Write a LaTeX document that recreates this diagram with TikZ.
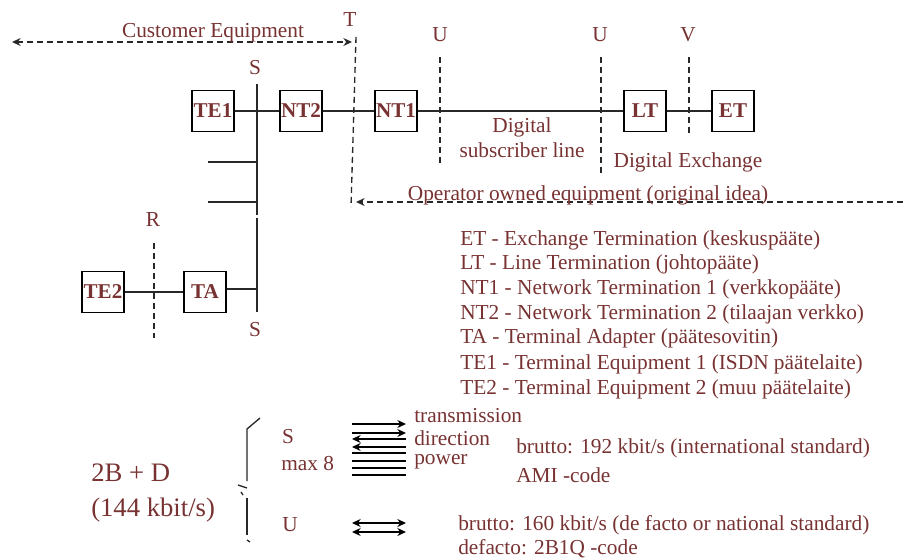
\documentclass[tikz,border=0pt]{standalone}
\usepackage{fontspec}
\setmainfont{Liberation Serif}
\usetikzlibrary{arrows.meta}
\definecolor{txt}{RGB}{120,50,50}
\definecolor{ln}{RGB}{40,40,40}
\begin{document}
\begin{tikzpicture}[x=0.75pt,y=-0.75pt,
  box/.style={draw=black,line width=1.1pt,minimum width=31.5pt,minimum height=30.75pt,inner sep=0pt,
    font=\fontsize{15.8}{17}\selectfont\bfseries,text=txt},
  lbl/.style={text=txt,font=\fontsize{16}{18.75}\selectfont,inner sep=0pt},
  lbll/.style={lbl,anchor=west},
  big/.style={text=txt,font=\fontsize{20}{22}\selectfont,inner sep=0pt,anchor=west},
  wire/.style={draw=ln,line width=1pt},
  dsh/.style={draw=ln,line width=1pt,dash pattern=on 4.5pt off 3pt},
  tip/.style={-{Stealth[length=6.5pt,width=6pt]}},
  dtip/.style={{Stealth[length=6.5pt,width=6pt]}-{Stealth[length=6.5pt,width=6pt]}},
  thin/.style={draw=black,line width=1.1pt}
]
\useasboundingbox (0,0) rectangle (904,560);
% boxes
\node[box] (te1) at (213,111) {TE1};
\node[box] (nt2) at (301,111) {NT2};
\node[box] (nt1) at (396,111) {NT1};
\node[box] (lt)  at (645,111) {LT};
\node[box] (et)  at (733,111) {ET};
\node[box] (te2) at (103,292) {TE2};
\node[box] (ta)  at (205,292) {TA};
% reference point labels
\node[lbl] (T)  at (350,20) {T};
\node[lbl] (U1) at (440,35) {U};
\node[lbl] (U2) at (600,35) {U};
\node[lbl] (V)  at (688,35) {V};
\node[lbl] (S1) at (255,68) {S};
\node[lbl] (S2) at (255,330) {S};
\node[lbl] (R)  at (153,220) {R};
% S bus
\coordinate (bt) at (257,84);
\coordinate (bg1) at (257,215);
\coordinate (bg2) at (257,218);
\coordinate (bb) at (257,312);
\draw[wire] (bt) -- (bg1);
\draw[wire] (bg2) -- (bb);
\coordinate (br1a) at (208,162); \coordinate (br1b) at (258,162);
\coordinate (br2a) at (208,202); \coordinate (br2b) at (258,202);
\draw[wire] (br1a) -- (br1b);
\draw[wire] (br2a) -- (br2b);
% connections
\draw[wire] (te1) -- (nt2);
\draw[wire] (nt2) -- (nt1);
\draw[wire] (nt1) -- (lt);
\draw[wire] (lt) -- (et);
\draw[wire] (te2) -- (ta);
\coordinate (tab) at (257,289);
\draw[wire] (ta.east |- tab) -- (tab);
% dashed reference lines
\coordinate (Tt) at (356,37); \coordinate (Tb) at (351,207);
\draw[dsh] (Tt) -- (Tb);
\coordinate (U1t) at (440,57); \coordinate (U1b) at (440,165);
\draw[dsh] (U1t) -- (U1b);
\coordinate (U2t) at (601,57); \coordinate (U2b) at (601,175);
\draw[dsh] (U2t) -- (U2b);
\coordinate (Vt) at (689,57); \coordinate (Vb) at (689,137);
\draw[dsh] (Vt) -- (Vb);
\coordinate (Rt) at (154,243); \coordinate (Rb) at (154,338);
\draw[dsh] (Rt) -- (Rb);
% equipment arrows
\coordinate (ceL) at (12,42); \coordinate (ceR) at (352,42);
\draw[dsh,dtip] (ceL) -- (ceR);
\node[lbl] (cet) at (213,33) {Customer Equipment};
\coordinate (opR) at (903,202); \coordinate (opL) at (356,202);
\draw[dsh,tip] (opR) -- (opL);
\node[lbl] (opt) at (588,195) {Operator owned equipment (original idea)};
% area labels
\node[lbl,align=center] (dsl) at (522,138) {Digital\\subscriber line};
\node[lbl] (dex) at (688,162) {Digital Exchange};
% legend
\node[lbll] (l1) at (460,240) {ET - Exchange Termination (keskuspääte)};
\node[lbll] (l2) at (460,264) {LT - Line Termination (johtopääte)};
\node[lbll] (l3) at (460,289) {NT1 - Network Termination 1 (verkkopääte)};
\node[lbll] (l4) at (460,314) {NT2 - Network Termination 2 (tilaajan verkko)};
\node[lbll] (l5) at (460,338) {TA - Terminal Adapter (päätesovitin)};
\node[lbll] (l6) at (460,364) {TE1 - Terminal Equipment 1 (ISDN päätelaite)};
\node[lbll] (l7) at (460,389) {TE2 - Terminal Equipment 2 (muu päätelaite)};
% bottom section
\node[big] (bd1) at (91,473) {2B + D};
\node[big] (bd2) at (91,510) {(144 kbit/s)};
% brace
\draw[wire] (260,418) -- (247,429) -- (247,481);
\draw[wire] (238,485) -- (247,488);
\draw[wire] (241,492) -- (243,495);
\draw[wire] (247,498) -- (247,535);
\draw[wire] (247,540) -- (250,542);
\node[lbl] (sS) at (288,437) {S};
\node[lbll] (max) at (281,464) {max 8};
\node[lbl] (sU) at (290,525) {U};
% S lines
\coordinate (a1l) at (352,424); \coordinate (a1r) at (406,424);
\coordinate (a2l) at (352,433); \coordinate (a2r) at (406,433);
\coordinate (a3l) at (352,439); \coordinate (a3r) at (406,439);
\coordinate (a4l) at (352,447); \coordinate (a4r) at (406,447);
\draw[thin,tip] (a1l) -- (a1r);
\draw[thin,tip] (a2l) -- (a2r);
\draw[thin,tip] (a3r) -- (a3l);
\draw[thin,tip] (a4r) -- (a4l);
\coordinate (p1l) at (352,453); \coordinate (p1r) at (406,453);
\coordinate (p2l) at (352,461); \coordinate (p2r) at (406,461);
\coordinate (p3l) at (352,468); \coordinate (p3r) at (406,468);
\coordinate (p4l) at (352,475); \coordinate (p4r) at (406,475);
\draw[thin] (p1l) -- (p1r);
\draw[thin] (p2l) -- (p2r);
\draw[thin] (p3l) -- (p3r);
\draw[thin] (p4l) -- (p4r);
% U lines
\coordinate (u1l) at (352,523); \coordinate (u1r) at (406,523);
\coordinate (u2l) at (352,532); \coordinate (u2r) at (406,532);
\draw[thin,dtip] (u1l) -- (u1r);
\draw[thin,dtip] (u2l) -- (u2r);
\node[lbll] (tr1) at (414,416) {transmission};
\node[lbll] (tr2) at (414,438) {direction};
\node[lbll] (tr3) at (414,462) {power};
\node[lbll] (b1) at (516,448) {brutto: 192 kbit/s (international standard)};
\node[lbll] (b2) at (516,475) {AMI -code};
\node[lbll] (b3) at (458,525) {brutto: 160 kbit/s (de facto or national standard)};
\node[lbll] (b4) at (458,549) {defacto: 2B1Q -code};
\end{tikzpicture}
\end{document}
